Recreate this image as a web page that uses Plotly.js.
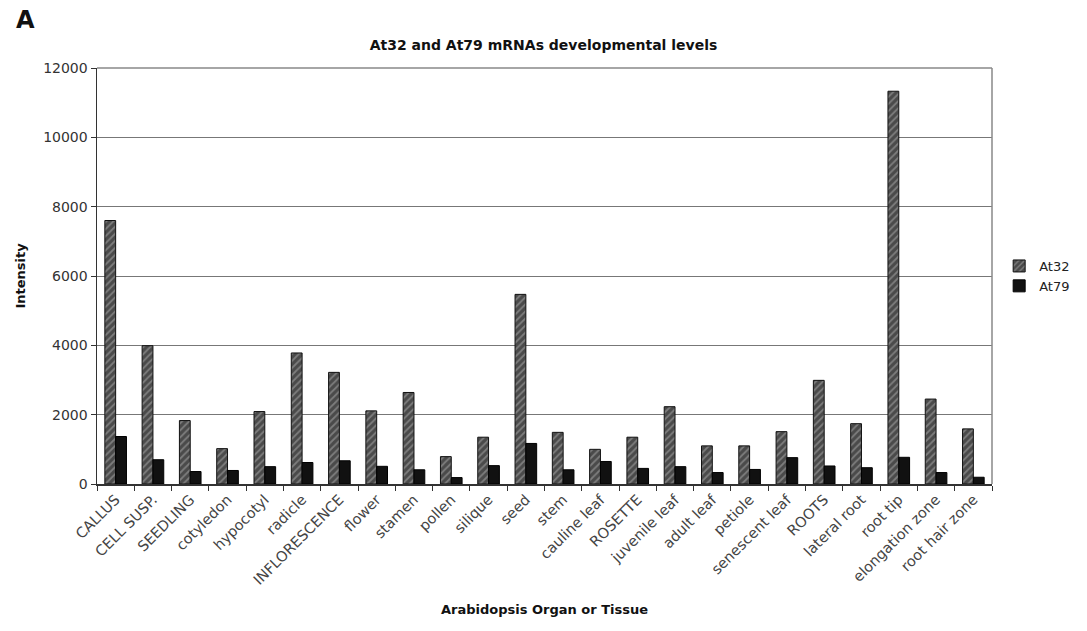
<!DOCTYPE html>
<html>
<head>
<meta charset="utf-8">
<script src="https://cdn.plot.ly/plotly-3.0.1.min.js"></script>
<style>html,body{margin:0;padding:0;background:#fff;}#chart{width:1087px;height:631px;}</style>
</head>
<body>
<div id="chart"></div>
<script>
const categories = ["CALLUS","CELL SUSP.","SEEDLING","cotyledon","hypocotyl","radicle","INFLORESCENCE","flower","stamen","pollen","silique","seed","stem","cauline leaf","ROSETTE","juvenile leaf","adult leaf","petiole","senescent leaf","ROOTS","lateral root","root tip","elongation zone","root hair zone"];
const at32 = [7600,3990,1830,1020,2090,3780,3220,2110,2640,790,1350,5470,1490,1000,1350,2230,1100,1100,1510,2990,1740,11330,2450,1590];
const at79 = [1370,700,360,390,500,620,670,510,410,185,530,1170,410,650,450,500,330,420,760,520,470,770,330,195];

const traces = [
  {type:'bar', name:'At32', x:categories, y:at32,
   marker:{color:'#4a4a4a', line:{color:'#111', width:1},
     pattern:{shape:'/', bgcolor:'#4a4a4a', fgcolor:'#b0b0b0', size:5, solidity:0.35, fillmode:'overlay'}}},
  {type:'bar', name:'At79', x:categories, y:at79,
   marker:{color:'#111', line:{color:'#000', width:1}}}
];

const layout = {
  width:1087, height:631,
  margin:{l:97, r:77, t:68, b:147},
  paper_bgcolor:'#fff', plot_bgcolor:'#fff',
  font:{family:'DejaVu Sans, Verdana, sans-serif', size:14, color:'#333'},
  title:{text:'<b>At32 and At79 mRNAs developmental levels</b>', x:0.5, xanchor:'center', y:0.928, yanchor:'middle', font:{size:14, color:'#111'}},
  barmode:'group', bargap:0.42, bargroupgap:0,
  showlegend:true,
  legend:{x:1.008, xanchor:'left', y:0.5, yanchor:'middle', font:{size:13, color:'#222'}, bgcolor:'rgba(0,0,0,0)', tracegroupgap:2},
  xaxis:{
    type:'category', tickangle:-45, showline:true, linecolor:'#333', linewidth:1.5, mirror:false,
    ticks:'outside', tickson:'boundaries', ticklen:5, tickcolor:'#333',
    showgrid:false, tickfont:{size:14.5, color:'#444'},
    title:{text:'<b>Arabidopsis Organ or Tissue</b>', font:{size:13, color:'#111'}, standoff:18}
  },
  yaxis:{
    range:[0,12000], dtick:2000, tickformat:'d', showline:true, linecolor:'#333', linewidth:1.5,
    ticks:'outside', ticklen:5, tickcolor:'#333',
    showgrid:true, gridcolor:'#777', gridwidth:1, zeroline:false,
    tickfont:{size:14, color:'#333'},
    title:{text:'<b>Intensity</b>', font:{size:13, color:'#111'}, standoff:14}
  },
  shapes:[
    {type:'line', xref:'paper', yref:'paper', x0:0, x1:1, y0:1, y1:1, line:{color:'#888', width:1.5}},
    {type:'line', xref:'paper', yref:'paper', x0:1, x1:1, y0:0, y1:1, line:{color:'#888', width:1.5}}
  ],
  annotations:[
    {text:'<b>A</b>', xref:'paper', yref:'paper', x:-0.093, y:1.115, xanchor:'left', yanchor:'middle', showarrow:false, font:{size:24, color:'#111', family:'DejaVu Sans, sans-serif'}}
  ]
};

Plotly.newPlot('chart', traces, layout, {displayModeBar:false, staticPlot:true});
</script>
</body>
</html>
